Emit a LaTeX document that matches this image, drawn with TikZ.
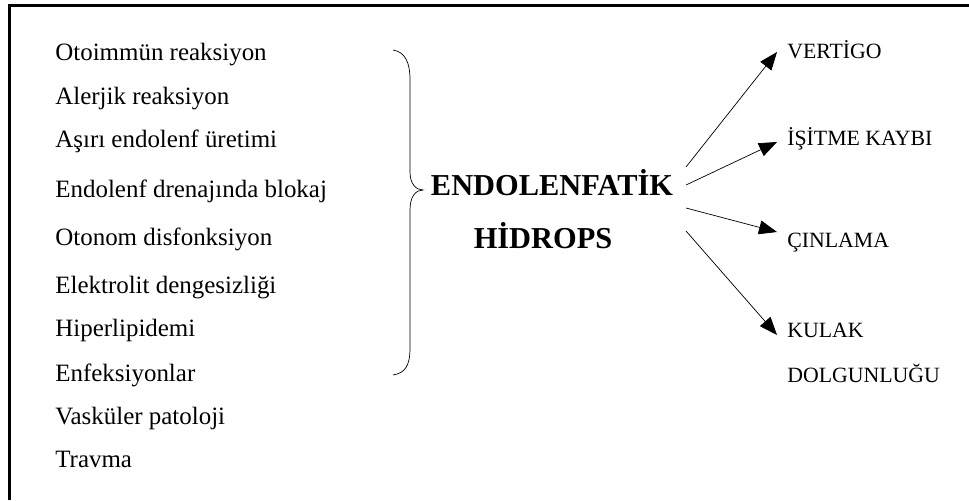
\documentclass[tikz,border=0pt]{standalone}
\usepackage{fontspec}
\setmainfont{Liberation Serif}
\usetikzlibrary{arrows.meta,calc}
\tikzset{>={Triangle[length=.36cm,width=.28cm]},line width=1pt,
  cause/.style={anchor=base west,inner sep=0pt,font=\fontsize{14.2}{17}\selectfont},
  effect/.style={anchor=base west,inner sep=0pt,text height=.28cm,text depth=0pt,
    font=\fontsize{12.4}{15}\selectfont},
  title/.style={anchor=base,inner sep=0pt,font=\fontsize{17.3}{20}\selectfont\bfseries},
  frame/.style={line width=1.5pt},
  link/.style={->}}

\begin{document}
\begin{tikzpicture}[x=.02cm,y=-.02cm]
\path[use as bounding box] (0,0) rectangle (969,500);
\draw[frame] (9.5,500)--(9.5,5.5)--(969,5.5);

% causes
\node[cause] (otoimmun) at (55,61) {Otoimmün reaksiyon};
\node[cause] (alerji) at (55,105) {Alerjik reaksiyon};
\node[cause] (uretim) at (55,147) {Aşırı endolenf üretimi};
\node[cause] (blokaj) at (55,197) {Endolenf drenajında blokaj};
\node[cause] (otonom) at (55,245) {Otonom disfonksiyon};
\node[cause] (elektrolit) at (55,293) {Elektrolit dengesizliği};
\node[cause] (lipid) at (55,336) {Hiperlipidemi};
\node[cause] (enfeksiyon) at (55,381) {Enfeksiyonlar};
\node[cause] (vaskuler) at (55,424) {Vasküler patoloji};
\node[cause] (travma) at (55,467) {Travma};

% brace
\draw (393,50) .. controls (405,52) and (410,62) .. (410,80) -- (410,172)
  .. controls (410,184) and (416,190) .. (423,190)
  .. controls (416,190) and (410,196) .. (410,210) -- (410,348)
  .. controls (410,366) and (405,373) .. (393,375);

% center
\node[title] (endo) at (552,195) {ENDOLENFATİK};
\node[title] (hidrops) at (543,248) {HİDROPS};

% effects
\node[effect] (vertigo) at (787,59) {VERTİGO};
\node[effect] (isitme) at (787,145) {İŞİTME KAYBI};
\node[effect] (cinlama) at (787,247) {ÇINLAMA};
\node[effect] (kulak) at (787,337) {KULAK};
\node[effect] (dolgun) at (787,382) {DOLGUNLUĞU};

\coordinate (s1) at (686,167);
\coordinate (s2) at (686,185);
\coordinate (s3) at (686,208);
\coordinate (s4) at (686,231);
\draw[link] (s1)--($(vertigo.west)+(-10,0)$);
\draw[link] (s2)--($(isitme.west)+(-10,4)$);
\draw[link] (s3)--($(cinlama.west)+(-10,-8)$);
\draw[link] (s4)--($(kulak.west)+(-10,5)$);
\end{tikzpicture}
\end{document}
